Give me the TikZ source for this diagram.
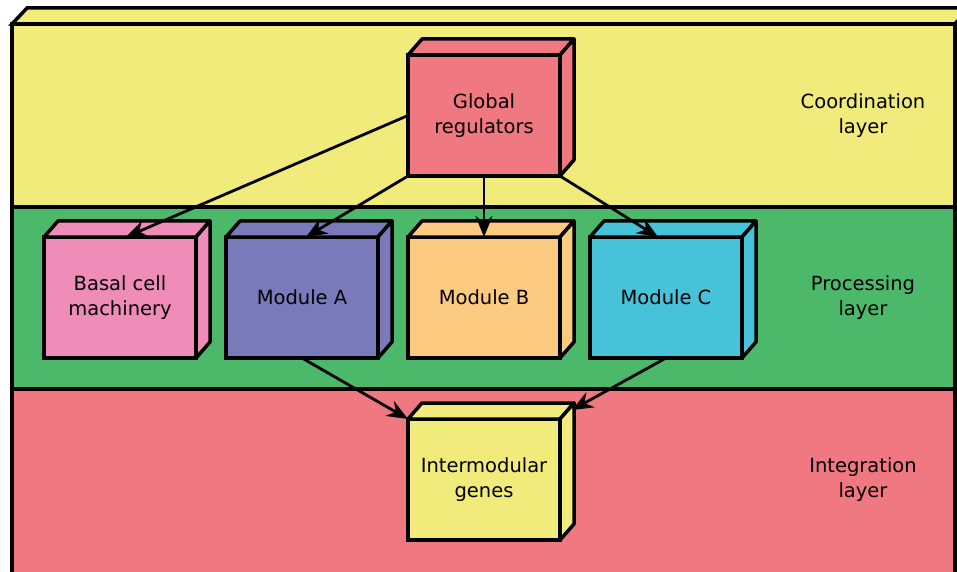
\documentclass[tikz,border=0pt]{standalone}
\usepackage{fontspec}
\setmainfont{DejaVu Sans}
\usetikzlibrary{
  arrows.meta,
  matrix,
  positioning
}
\definecolor{layeryellow}{RGB}{240,235,122}
\definecolor{layergreen}{RGB}{76,184,106}
\definecolor{layerred}{RGB}{240,120,128}
\definecolor{basalpink}{RGB}{240,140,184}
\definecolor{moduleblue}{RGB}{120,122,186}
\definecolor{moduleorange}{RGB}{252,202,128}
\definecolor{modulecyan}{RGB}{70,195,216}

\begin{document}
\begin{tikzpicture}[x=1pt,y=1pt,
      box/.style={
         rectangle,
         minimum width=152pt,
         minimum height=121pt,
         line width=3.5pt,
         outer sep=0pt,
         draw=black,
         align=center,
         font=\fontsize{19.5}{25}\selectfont
      },
      face/.style={line width=3.5pt,line join=round},
      slab/.style={line width=3.5pt,draw=black},
      layertext/.style={align=center,font=\fontsize{19.5}{25}\selectfont},
      flow/.style={-{Stealth[length=21pt,width=17pt]},line width=2.8pt},
    ]
    \useasboundingbox (0,0) rectangle (957,571);
    \clip (0,0) rectangle (957,571);
    % the three layers
    \filldraw[slab,fill=layerred] (12,-10) rectangle (955,182);
    \filldraw[slab,fill=layergreen] (12,182) rectangle (955,364);
    \filldraw[slab,fill=layeryellow] (12,364) rectangle (955,547);
    \filldraw[slab,fill=layeryellow] (12,547) -- (27,563) -- (970,563) -- (955,547) -- cycle;
    \filldraw[slab,fill=layeryellow] (955,547) -- (970,563) -- (970,-10) -- (955,-10) -- cycle;
    \matrix (m) [matrix anchor=modb.center, column sep=26.5pt, row sep=57.5pt] at (484,273.5) {
 & & \node (glob) [box, fill=layerred] {Global\\regulators}; & \\
\node (basal) [box, fill=basalpink] {Basal cell\\machinery}; & \node (moda) [box, fill=moduleblue] {Module A}; & \node (modb) [box, fill=moduleorange] {Module B}; & \node (modc) [box, fill=modulecyan] {Module C}; \\
 & & \node (inter) [box, fill=layeryellow] {Intermodular\\genes}; & \\
    };
    % top and side faces
    \foreach \n/\c in {glob/layerred, basal/basalpink, moda/moduleblue, modb/moduleorange, modc/modulecyan, inter/layeryellow}{
       \filldraw[face,fill=\c] (\n.north west) -- ++(14,16) -- ([shift={(14,16)}]\n.north east) -- (\n.north east) -- cycle;
       \filldraw[face,fill=\c] (\n.north east) -- ++(14,16) -- ([shift={(14,16)}]\n.south east) -- (\n.south east) -- cycle;
    }
    \draw[flow] (glob.west) -- ([xshift=6pt]basal.north);
    \draw[flow] (glob.south west) -- ([xshift=4pt]moda.north);
    \draw[flow] (glob.south) -- (modb.north);
    \draw[flow] (glob.south east) -- ([xshift=-8pt]modc.north);
    \draw[flow] (moda.south) -- (inter.north west);
    \draw[flow] (modc.south) -- ([shift={(12pt,9pt)}]inter.north east);
    \node (coordlabel) [layertext] at (863,0 |- glob) {Coordination\\layer};
    \node (proclabel) [layertext] at (863,0 |- modb) {Processing\\layer};
    \node (integlabel) [layertext] at (863,0 |- inter) {Integration\\layer};
\end{tikzpicture}
\end{document}
